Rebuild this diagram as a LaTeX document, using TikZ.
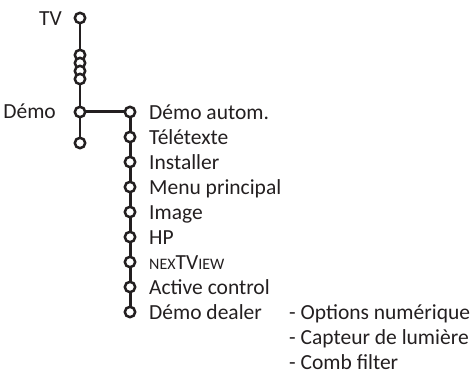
\documentclass[tikz,border=0pt]{standalone}
\usepackage{fontspec}
\usepackage{tikz}
\usetikzlibrary{positioning}
\newfontfamily\menufont{Carlito}
\definecolor{ink}{HTML}{231F20}
\newcommand{\smallcap}[1]{{\fontsize{16}{16}\selectfont #1}}
\tikzset{%
	knob/.style={draw=ink, circle, minimum size=10.4pt, inner sep=0pt, line width=2.5pt, fill=white},
	lbl/.style={anchor=base west, inner sep=0pt, text=ink, font=\menufont\fontsize{21.5}{25}\selectfont},
	lbll/.style={lbl, anchor=base east},
	trunk/.style={draw=ink, line width=1.7pt},
	branch/.style={draw=ink, line width=3pt}
}

\begin{document}
\begin{tikzpicture}[x=1pt, y=-1pt]
	\useasboundingbox (0,0) rectangle (472,374);

	\node[knob] (tv) at (80,18) {};
	\node[knob] (s1) at (80,55) {};
	\node[knob] (s2) at (80,63) {};
	\node[knob] (s3) at (80,71) {};
	\node[knob] (s4) at (80,79) {};
	\node[knob] (demo) at (80,112) {};
	\node[knob] (low) at (80,143) {};
	\node[lbll] (tvtxt) at (62,26) {TV};
	\node[lbll] (demotxt) at (56,119) {Démo};

	\node[knob] (i1) at (130,112) {};
	\node[knob] (i2) at (130,137) {};
	\node[knob] (i3) at (130,162) {};
	\node[knob] (i4) at (130,187) {};
	\node[knob] (i5) at (130,212) {};
	\node[knob] (i6) at (130,237) {};
	\node[knob] (i7) at (130,262) {};
	\node[knob] (i8) at (130,287) {};
	\node[knob] (i9) at (130,312) {};

	\node[lbl] (t1) at ([xshift=19pt,yshift=-7.5pt]i1.center) {Démo autom.};
	\node[lbl] (t2) at ([xshift=19pt,yshift=-7.5pt]i2.center) {Télétexte};
	\node[lbl] (t3) at ([xshift=19pt,yshift=-7.5pt]i3.center) {Installer};
	\node[lbl] (t4) at ([xshift=19pt,yshift=-7.5pt]i4.center) {Menu principal};
	\node[lbl] (t5) at ([xshift=19pt,yshift=-7.5pt]i5.center) {Image};
	\node[lbl] (t6) at ([xshift=19pt,yshift=-7.5pt]i6.center) {HP};
	\node[lbl] (t7) at ([xshift=19pt,yshift=-7.5pt]i7.center) {\smallcap{NEX}TV\smallcap{IEW}};
	\node[lbl] (t8) at ([xshift=19pt,yshift=-7.5pt]i8.center) {Active control};
	\node[lbl] (t9) at ([xshift=19pt,yshift=-7.5pt]i9.center) {Démo dealer};

	\node[lbl] (o1) at (289,319.5) {- Options numérique};
	\node[lbl] (o2) at (289,344.5) {- Capteur de lumière};
	\node[lbl] (o3) at (289,369.5) {- Comb filter};

	\draw[trunk] (tv) -- (s1);
	\draw[trunk] (s4) -- (demo);
	\draw[trunk] (demo) -- (low);
	\draw[branch] (demo) -- (i1);
	\draw[branch] (i1) -- (i2);
	\draw[branch] (i2) -- (i3);
	\draw[branch] (i3) -- (i4);
	\draw[branch] (i4) -- (i5);
	\draw[branch] (i5) -- (i6);
	\draw[branch] (i6) -- (i7);
	\draw[branch] (i7) -- (i8);
	\draw[branch] (i8) -- (i9);
\end{tikzpicture}
\end{document}
